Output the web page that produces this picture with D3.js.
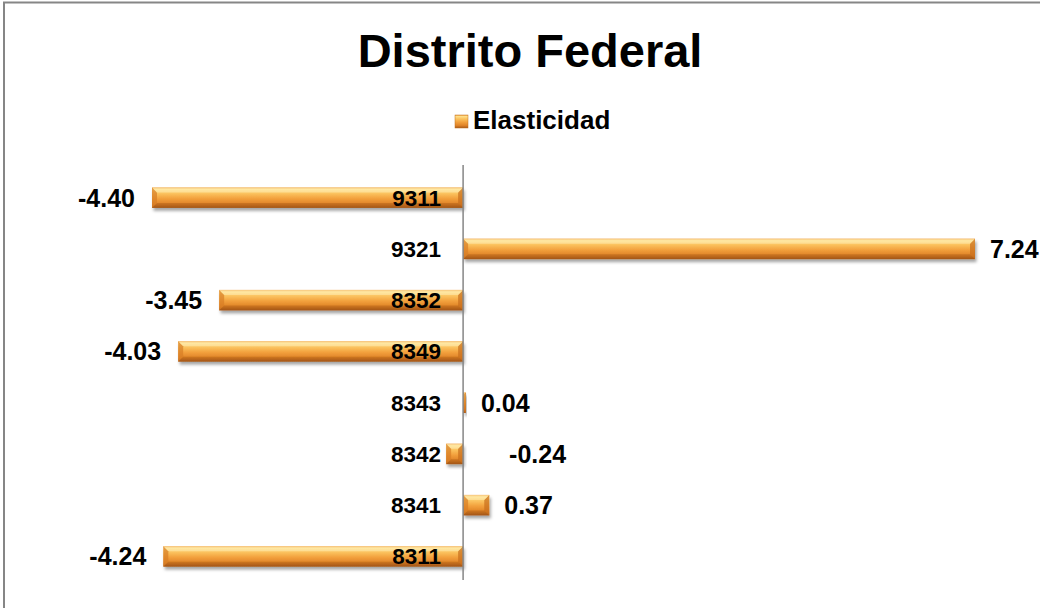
<!DOCTYPE html>
<html><head><meta charset="utf-8">
<script src="https://cdn.jsdelivr.net/npm/d3@7"></script>
<style>html,body{margin:0;padding:0;background:#fff}svg{display:block}</style>
</head><body>
<svg id="chart" width="1040" height="608"></svg>
<script>
const categories = ["9311","9321","8352","8349","8343","8342","8341","8311"];
const values = [-4.40, 7.24, -3.45, -4.03, 0.04, -0.24, 0.37, -4.24];
const seriesName = "Elasticidad";
const title = "Distrito Federal";

const svg = d3.select("#chart");
const W = 1040, H = 608;
const FONT = "'Liberation Sans', Arial, sans-serif";
const fmt = d3.formatLocale({decimal: ".", thousands: ",", grouping: [3], currency: ["", ""], minus: "-"}).format(".2f");

svg.append("rect").attr("width", W).attr("height", H).attr("fill", "#fff");
// chart border (only top/left visible)
svg.append("rect").attr("x", 4).attr("y", 2.5).attr("width", 1100).attr("height", 700)
  .attr("fill", "none").attr("stroke", "#868686").attr("stroke-width", 2);

const defs = svg.append("defs");
const grad = defs.append("linearGradient").attr("id", "barGrad").attr("x1", 0).attr("y1", 0).attr("x2", 0).attr("y2", 1);
[[0,"#f0a040"],[0.1,"#ffe08a"],[0.3,"#fbc25e"],[0.55,"#f2a03c"],[0.8,"#e08428"],[1,"#a85818"]]
  .forEach(([o,c]) => grad.append("stop").attr("offset", o).attr("stop-color", c));
const sh = defs.append("filter").attr("id", "shadow").attr("x", "-10%").attr("y", "-30%").attr("width", "130%").attr("height", "180%");
sh.append("feDropShadow").attr("dx", 1.5).attr("dy", 3).attr("stdDeviation", 1.8)
  .attr("flood-color", "#000").attr("flood-opacity", 0.35);

const x = d3.scaleLinear().domain([-4.4, 7.24]).range([152, 975]);
const y = d3.scaleBand().domain(categories).range([172, 582]).paddingInner(0.6).paddingOuter(0.3);
const x0 = x(0);
const bh = y.bandwidth();

// Title
svg.append("text").attr("x", 530).attr("y", 67).attr("text-anchor", "middle")
  .attr("font-family", FONT).attr("font-weight", "bold").attr("font-size", 47).attr("fill", "#000")
  .text(title);

// Legend
const lg = svg.append("g");
lg.append("rect").attr("x", 455).attr("y", 115).attr("width", 13).attr("height", 13)
  .attr("fill", "url(#barGrad)").attr("stroke", "#c0701f").attr("stroke-width", 0.5);
lg.append("text").attr("x", 473).attr("y", 129).attr("font-family", FONT).attr("font-weight", "bold")
  .attr("font-size", 26).attr("fill", "#000").text(seriesName);

const data = categories.map((c, i) => ({c, v: values[i]}));

// Bars
const bars = svg.append("g").selectAll("g").data(data).join("g");
bars.append("rect")
  .attr("x", d => Math.min(x(d.v), x0)).attr("y", d => y(d.c))
  .attr("width", d => Math.max(1.5, Math.abs(x(d.v) - x0))).attr("height", bh)
  .attr("fill", "url(#barGrad)").attr("filter", "url(#shadow)");
// end bevels
bars.each(function(d) {
  const g = d3.select(this);
  const xa = Math.min(x(d.v), x0), xb = Math.max(x(d.v), x0);
  const yt = y(d.c), yb = yt + bh;
  const b = Math.min(5, (xb - xa) / 2);
  if (b < 1) return;
  g.append("polygon").attr("points", `${xa},${yt} ${xa+b},${yt+b} ${xa+b},${yb-b} ${xa},${yb}`)
    .attr("fill", "#d77e25").attr("opacity", 0.7);
  g.append("polygon").attr("points", `${xb},${yt} ${xb-b},${yt+b} ${xb-b},${yb-b} ${xb},${yb}`)
    .attr("fill", "#c86e1c").attr("opacity", 0.7);
  g.append("polygon").attr("points", `${xa},${yt} ${xb},${yt} ${xb-b},${yt+b} ${xa+b},${yt+b}`)
    .attr("fill", "#fff2c0").attr("opacity", 0.45);
  g.append("polygon").attr("points", `${xa},${yb} ${xb},${yb} ${xb-b},${yb-b} ${xa+b},${yb-b}`)
    .attr("fill", "#9a4f12").attr("opacity", 0.35);
});

// zero axis line
svg.append("line").attr("x1", x0).attr("x2", x0).attr("y1", 165).attr("y2", 580)
  .attr("stroke", "#868686").attr("stroke-width", 1.5);

// category labels (axis)
const yAxis = d3.axisLeft(y).tickSize(0).tickPadding(22);
const ag = svg.append("g").attr("transform", `translate(${x0},0)`).call(yAxis);
ag.select(".domain").remove();
ag.selectAll("text").attr("font-family", FONT).attr("font-weight", "bold").attr("font-size", 22.5)
  .attr("fill", "#000").attr("dy", "0.36em");

// value labels
svg.append("g").selectAll("text").data(data).join("text")
  .attr("font-family", FONT).attr("font-weight", "bold").attr("font-size", 25).attr("fill", "#000")
  .attr("y", d => y(d.c) + bh / 2).attr("dy", "0.36em")
  .attr("text-anchor", d => (d.v < 0 && x0 - x(d.v) > 60) ? "end" : "start")
  .attr("x", d => {
    if (d.v >= 0) return x(d.v) + 15;
    if (x0 - x(d.v) > 60) return x(d.v) - 17;
    return x0 + 46;
  })
  .text(d => fmt(d.v));
</script>
</body></html>
